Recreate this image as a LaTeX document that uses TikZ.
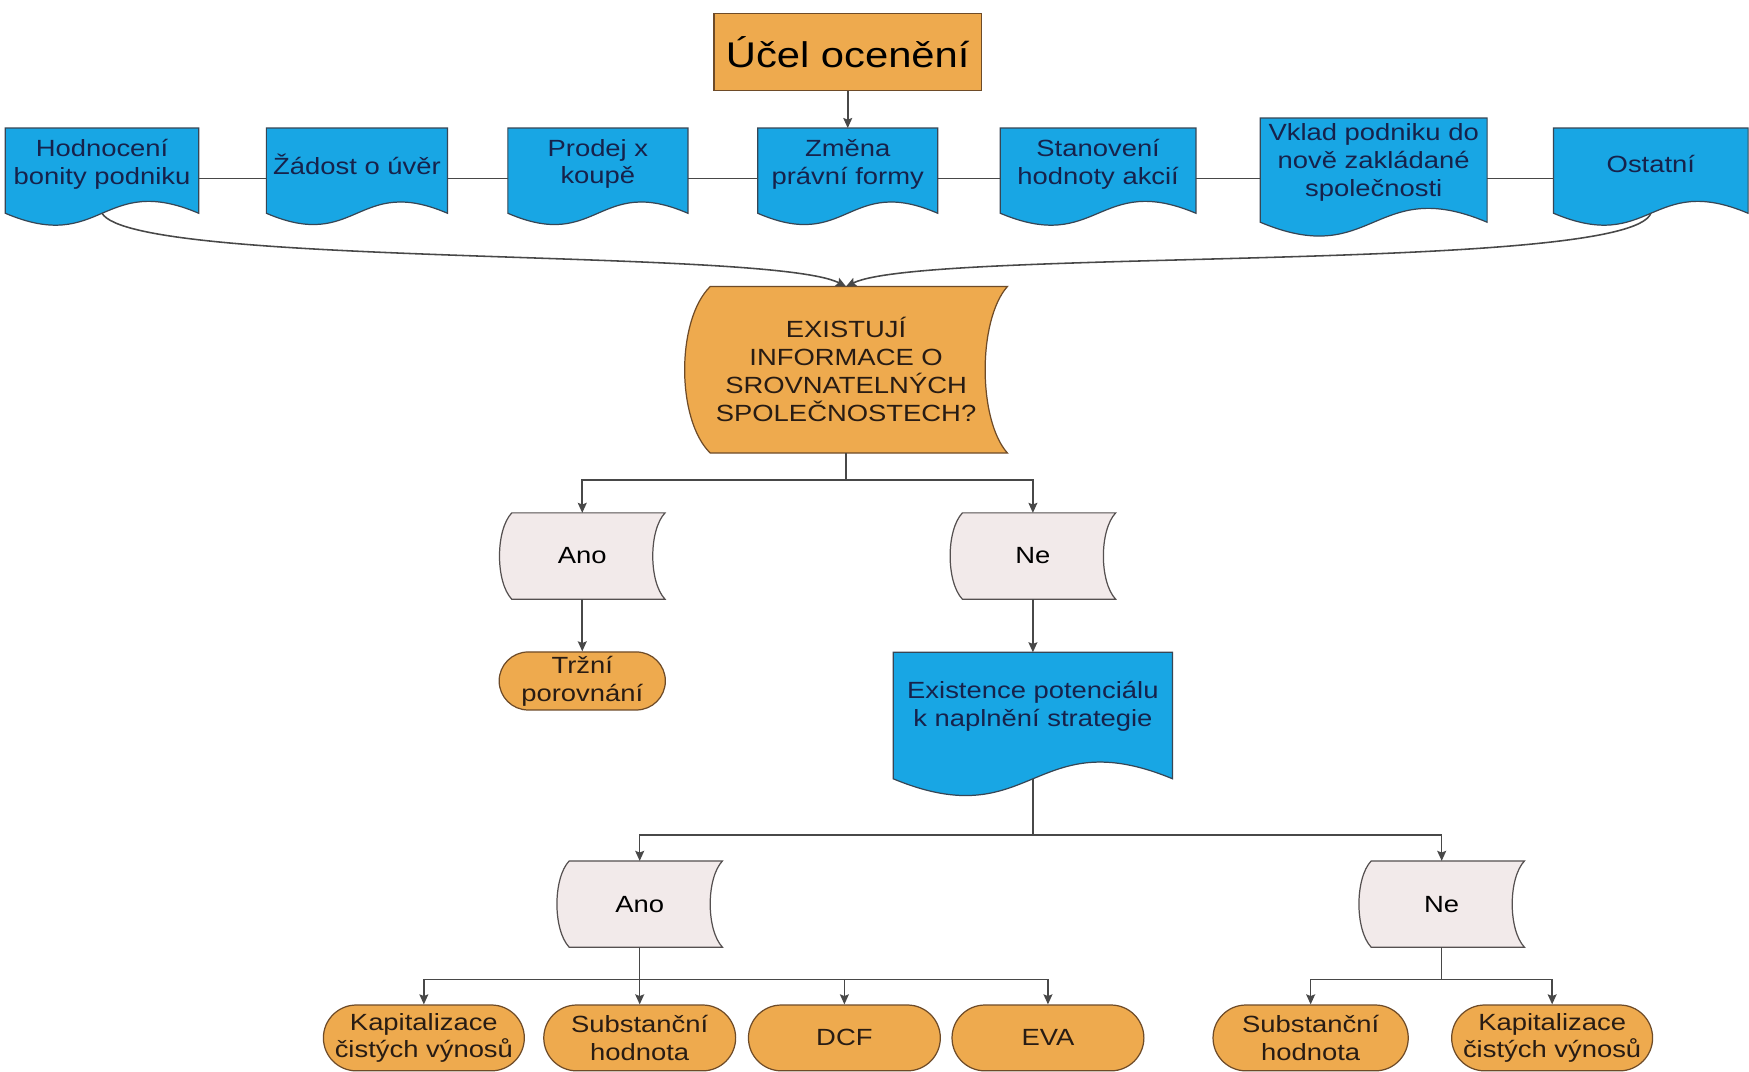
\documentclass[tikz,border=0pt]{standalone}
\usepackage{fontspec}
\setmainfont{Liberation Sans}[FakeStretch=1.17]
\usetikzlibrary{calc,backgrounds,arrows.meta,shapes.misc}
\definecolor{cblue}{RGB}{24,166,228}
\definecolor{cblueline}{RGB}{55,70,85}
\definecolor{corange}{RGB}{238,170,78}
\definecolor{corangeline}{RGB}{110,75,40}
\definecolor{cpink}{RGB}{242,234,234}
\definecolor{cpinkline}{RGB}{85,80,80}
\definecolor{cline}{RGB}{72,72,72}
\definecolor{cbluetext}{RGB}{22,34,75}
\definecolor{cdarktext}{RGB}{40,28,20}
% document shape: node, offset of straight sides below south, wave amplitude control
\newcommand\mydocshape[3]{%
  \filldraw[docfill] (#1.north west) -- ($(#1.south west)+(0,#2)$)
    .. controls ($(#1.south)+(0,#2+#3)$) and ($(#1.south)+(0,#2-#3)$) .. ($(#1.south east)+(0,#2)$)
    -- (#1.north east) -- cycle;}
% stored-data shape: style, node, left inset, right inset
\newcommand\mystoreshape[4]{%
  \filldraw[#1] ($(#2.north west)+(#3,0)$) -- (#2.north east)
    .. controls ($(#2.north east)!0.2!(#2.south east)+(-4/3*#4,0)$) and ($(#2.north east)!0.8!(#2.south east)+(-4/3*#4,0)$) .. (#2.south east)
    -- ($(#2.south west)+(#3,0)$)
    .. controls ($(#2.north west)!0.8!(#2.south west)+(-#3/3,0)$) and ($(#2.north west)!0.2!(#2.south west)+(-#3/3,0)$) .. ($(#2.north west)+(#3,0)$)
    -- cycle;}
\tikzset{
  txt/.style={font=\fontsize{21}{25}\selectfont, align=center},
  docnode/.style={txt, text=cbluetext, inner sep=0pt, minimum height=64pt},
  storenode/.style={txt, text=black, inner sep=0pt, minimum width=148pt, minimum height=77pt},
  termnode/.style={txt, text=cdarktext, rounded rectangle, draw=corangeline, line width=1.1pt,
    fill=corange, inner sep=0pt, minimum width=172pt, minimum height=59pt},
  docfill/.style={fill=cblue, draw=cblueline, line width=1.1pt},
  orangefill/.style={fill=corange, draw=corangeline, line width=1.1pt},
  pinkfill/.style={fill=cpink, draw=cpinkline, line width=1.1pt},
  conn/.style={draw=cline, line width=1.4pt},
  arr/.style={conn, -{Stealth[length=9pt,width=8pt,inset=1.5pt]}},
}
\begin{document}
\begin{tikzpicture}[x=1pt,y=-1pt]
\useasboundingbox (0,0) rectangle (1568,961);

% top
\node[font=\fontsize{32}{38}\selectfont, text=black, fill=corange, draw=corangeline, line width=1.1pt,
  inner sep=0pt, minimum width=240pt, minimum height=69pt] (uc) at (760,46.5) {Účel ocenění};

% purposes row
\node[docnode, minimum width=173pt] (hod) at (91.5,147) {Hodnocení\\bonity podniku};
\node[docnode, minimum width=162pt] (zad) at (320,147) {Žádost o úvěr};
\node[docnode, minimum width=161pt] (pro) at (536,147) {Prodej x\\koupě};
\node[docnode, minimum width=161pt] (zm) at (760,147) {Změna\\právní formy};
\node[docnode, minimum width=175pt] (sta) at (984.5,147) {Stanovení\\hodnoty akcií};
\node[docnode, minimum width=203pt, minimum height=79pt] (vkl) at (1231.5,145.5) {Vklad podniku do\\nově zakládané\\společnosti};
\node[docnode, minimum width=174pt] (ost) at (1480,147) {Ostatní};

% question
\node[txt, text=cdarktext, inner sep=0pt, minimum width=289pt, minimum height=149pt] (ex) at (758.5,331.5)
  {EXISTUJÍ\\INFORMACE O\\SROVNATELNÝCH\\SPOLEČNOSTECH?};

\node[storenode] (ano1) at (522,498.5) {Ano};
\node[storenode] (ne1) at (926,498.5) {Ne};
\node[termnode, minimum width=149pt, minimum height=52pt] (trz) at (522,610.5) {Tržní\\porovnání};

\node[docnode, minimum width=250pt, minimum height=96pt] (ex2) at (926,633) {Existence potenciálu\\k naplnění strategie};
\coordinate (ex2b) at ($(ex2.south)+(0,17)$);

\node[storenode] (ano2) at (573.5,810.5) {Ano};
\node[storenode] (ne2) at (1292.5,810.5) {Ne};

\node[termnode] (t1) at (380,930.5) {Kapitalizace\\čistých výnosů};
\node[termnode] (t2) at (573.5,930.5) {Substanční\\hodnota};
\node[termnode] (t3) at (757,930.5) {DCF};
\node[termnode] (t4) at (939.5,930.5) {EVA};
\node[termnode, minimum width=175pt] (t5) at (1175,930.5) {Substanční\\hodnota};
\node[termnode] (t6) at (1391.5,930.5) {Kapitalizace\\čistých výnosů};

\begin{scope}[on background layer]
  \fill[white] (0,0) rectangle (1568,961);
  \mydocshape{hod}{12}{37}
  \mydocshape{zad}{12}{35}
  \mydocshape{pro}{12}{35}
  \mydocshape{zm}{12}{35}
  \mydocshape{sta}{12}{37}
  \mydocshape{vkl}{14}{43}
  \mydocshape{ost}{12}{37}
  \mydocshape{ex2}{17}{52}
  \mystoreshape{orangefill}{ex}{23}{20}
  \mystoreshape{pinkfill}{ano1}{11}{11}
  \mystoreshape{pinkfill}{ne1}{11}{11}
  \mystoreshape{pinkfill}{ano2}{11}{11}
  \mystoreshape{pinkfill}{ne2}{11}{11}
\end{scope}

% connectors
\draw[arr] (uc) -- (zm);
\draw[conn] ([yshift=-13pt]hod.east) -- ([yshift=-13pt]zad.west);
\draw[conn] ([yshift=-13pt]zad.east) -- ([yshift=-13pt]pro.west);
\draw[conn] ([yshift=-13pt]pro.east) -- ([yshift=-13pt]zm.west);
\draw[conn] ([yshift=-13pt]zm.east) -- ([yshift=-13pt]sta.west);
\draw[conn] ([yshift=-13pt]sta.east) -- ([yshift=-14.5pt]vkl.west);
\draw[conn] ([yshift=-14.5pt]vkl.east) -- ([yshift=-13pt]ost.west);

\draw[arr] ([yshift=-12pt]hod.south) .. controls (120,240) and (690,222) .. (ex.north);
\draw[arr] ([yshift=-12pt]ost.south) .. controls (1460,245) and (830,222) .. (ex.north);

\draw[arr] (ex.south) -- ++(0,24) -| (ano1.north);
\draw[arr] (ex.south) -- ++(0,24) -| (ne1.north);
\draw[arr] (ano1) -- (trz);
\draw[arr] (ne1) -- (ex2);

\draw[arr] (ex2b) -- ++(0,50.5) -| (ano2.north);
\draw[arr] (ex2b) -- ++(0,50.5) -| (ne2.north);

\draw[arr] (ano2.south) -- ++(0,29) -| (t1.north);
\draw[arr] (ano2.south) -- ++(0,29) -| (t2.north);
\draw[arr] (ano2.south) -- ++(0,29) -| (t3.north);
\draw[arr] (ano2.south) -- ++(0,29) -| (t4.north);
\draw[arr] (ne2.south) -- ++(0,29) -| (t5.north);
\draw[arr] (ne2.south) -- ++(0,29) -| (t6.north);
\end{tikzpicture}
\end{document}
